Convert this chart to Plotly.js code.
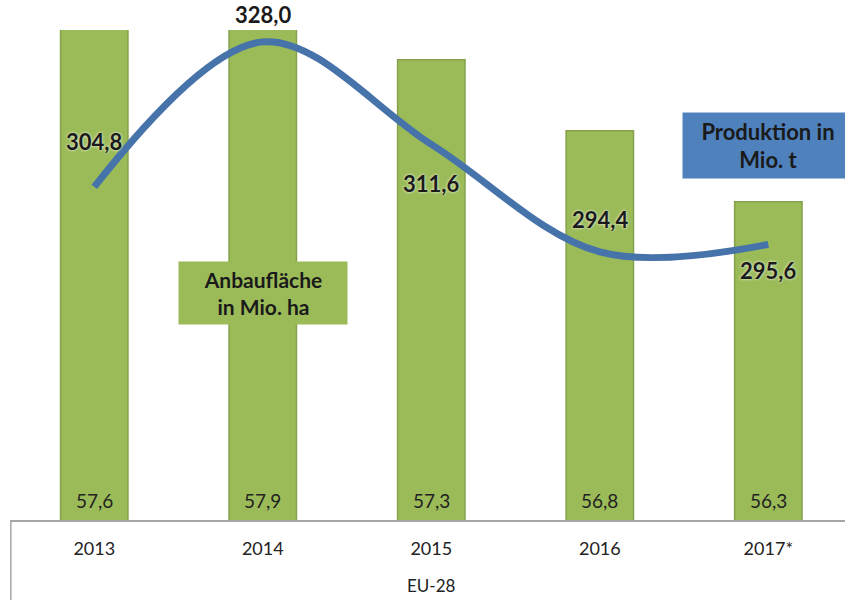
<!DOCTYPE html>
<html>
<head>
<meta charset="utf-8">
<script src="https://cdn.plot.ly/plotly-3.0.1.min.js"></script>
<style>html,body{margin:0;padding:0;background:#fff;}#chart{width:845px;height:600px;}</style>
</head>
<body>
<div id="chart"></div>
<script>
// Data
const years = ["2013", "2014", "2015", "2016", "2017"];
const yearLabels = ["2013", "2014", "2015", "2016", "2017*"];
const areaMioHa = [57.6, 57.9, 57.3, 56.8, 56.3];
const productionMioT = [304.8, 328.0, 311.6, 294.4, 295.6];
const groupLabel = "EU-28";
const areaBoxText = "Anbaufläche<br>in Mio. ha";
const prodBoxText = "Produktion in<br>Mio. t";

const fmt = v => v.toFixed(1).replace('.', ',');
const FONT = "Lato, 'Open Sans', sans-serif";
const prodShifts = [45, 27, -39, 32, -26];

const traces = [
  {
    type: 'bar', x: years, y: areaMioHa, width: 0.4,
    marker: {color: '#9BBB59', line: {color: '#85A24A', width: 1.5}},
    hoverinfo: 'skip'
  },
  {
    type: 'scatter', mode: 'lines', x: years, y: productionMioT, yaxis: 'y2',
    line: {shape: 'spline', smoothing: 1, width: 7, color: '#4673A9'},
    hoverinfo: 'skip', cliponaxis: false
  }
];

const annotations = [];
years.forEach((yr, i) => {
  annotations.push({
    x: i, xref: 'x', y: 0, yref: 'paper', yanchor: 'bottom', yshift: 6,
    text: fmt(areaMioHa[i]), showarrow: false,
    font: {family: FONT, size: 19, color: '#222'}
  });
  annotations.push({
    x: i, xref: 'x', y: productionMioT[i], yref: 'y2', yanchor: 'middle', yshift: prodShifts[i],
    text: '<b>' + fmt(productionMioT[i]) + '</b>', showarrow: false,
    font: {family: FONT, size: 22, color: '#1a1a1a', shadow: '0 0 3px #fff'}
  });
});
annotations.push({
  x: 1, xref: 'x', y: 0.463, yref: 'paper', yanchor: 'middle', text: '<b>' + areaBoxText + '</b>', showarrow: false,
  bgcolor: '#9BBB59', width: 160, height: 54, borderpad: 4, align: 'center',
  font: {family: FONT, size: 21, color: '#1a1a1a'}
});
annotations.push({
  x: 4, xref: 'x', y: 0.764, yref: 'paper', yanchor: 'middle', text: '<b>' + prodBoxText + '</b>', showarrow: false,
  bgcolor: '#4F81BD', width: 162, height: 57, borderpad: 4, align: 'center',
  font: {family: FONT, size: 22, color: '#1a1a1a'}
});
annotations.push({
  x: 2, xref: 'x', y: -0.133, yref: 'paper', yanchor: 'middle', text: groupLabel, showarrow: false,
  font: {family: FONT, size: 17, color: '#222'}
});

const layout = {
  width: 845, height: 600,
  margin: {l: 10, r: 0, t: 30, b: 80},
  paper_bgcolor: '#fff', plot_bgcolor: '#fff',
  showlegend: false,
  xaxis: {
    type: 'category', range: [-0.5, 4.455], tickvals: years, ticktext: yearLabels,
    showline: true, linecolor: '#A6A6A6', linewidth: 1.5, ticks: '', showgrid: false, zeroline: false,
    tickfont: {family: FONT, size: 18, color: '#222'}, ticklabelstandoff: 12, fixedrange: true
  },
  yaxis: {range: [54.06, 57.51], visible: false, fixedrange: true},
  yaxis2: {range: [251.5, 329.9], overlaying: 'y', visible: false, fixedrange: true},
  shapes: [
    {type: 'line', xref: 'paper', yref: 'paper', x0: 0.001, x1: 0.001, y0: 0, y1: -0.1633,
     line: {color: '#A6A6A6', width: 1.5}}
  ],
  annotations: annotations
};

Plotly.newPlot('chart', traces, layout, {displayModeBar: false, staticPlot: true});
</script>
</body>
</html>
